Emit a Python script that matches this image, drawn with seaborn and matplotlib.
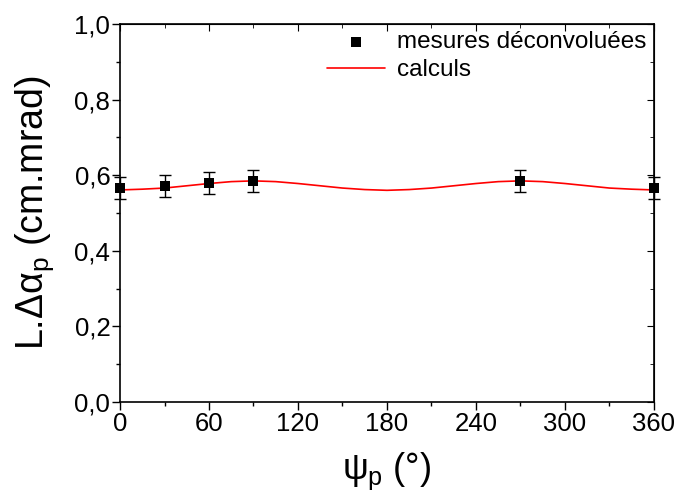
import numpy as np
import pandas as pd
import matplotlib
matplotlib.use("Agg")
import matplotlib.pyplot as plt
from matplotlib.ticker import MultipleLocator, FuncFormatter
import seaborn as sns

# measured points (deconvolved)
psi_meas = [0, 30, 60, 90, 270, 360]
l_meas = [0.566, 0.571, 0.579, 0.585, 0.585, 0.566]
l_err = [0.029, 0.029, 0.029, 0.029, 0.029, 0.029]

# calculated curve
psi_calc = [0, 15, 30, 45, 60, 75, 90, 105, 120, 135, 150, 165, 180,
            195, 210, 225, 240, 255, 270, 285, 300, 315, 330, 345, 360]
l_calc = [0.561, 0.563, 0.566, 0.572, 0.578, 0.583, 0.585, 0.583, 0.578,
          0.572, 0.566, 0.562, 0.560, 0.562, 0.566, 0.572, 0.578, 0.583,
          0.585, 0.583, 0.578, 0.572, 0.566, 0.563, 0.561]

sns.set_style("ticks", {"text.color": "black", "axes.labelcolor": "black",
                        "xtick.color": "black", "ytick.color": "black",
                        "axes.edgecolor": "black"})
plt.rcParams['font.family'] = ['Liberation Sans', 'DejaVu Sans']
plt.rcParams['mathtext.fontset'] = 'custom'
plt.rcParams['mathtext.rm'] = 'Liberation Sans'
plt.rcParams['mathtext.it'] = 'Liberation Sans'

fig = plt.figure(figsize=(6.83, 5), dpi=100)
ax = fig.add_axes([0.1757, 0.196, 0.7818, 0.756])

calc = pd.DataFrame({"psi": psi_calc, "L": l_calc})
meas = pd.DataFrame({"psi": psi_meas, "L": l_meas})

ax.errorbar(psi_meas, l_meas, yerr=l_err, fmt="none", ecolor="black",
            elinewidth=1, capsize=4, capthick=1, zorder=3, clip_on=False)
sns.scatterplot(data=meas, x="psi", y="L", marker="s", s=55, color="black",
                edgecolor="black", linewidth=0, ax=ax, zorder=4,
                label="mesures déconvoluées", clip_on=False)
sns.lineplot(data=calc, x="psi", y="L", color="red", linewidth=1.2, ax=ax,
             label="calculs", zorder=2)

ax.set_xlim(0, 360)
ax.set_ylim(0, 1.0)
ax.xaxis.set_major_locator(MultipleLocator(60))
ax.xaxis.set_minor_locator(MultipleLocator(30))
ax.yaxis.set_major_locator(MultipleLocator(0.2))
ax.yaxis.set_minor_locator(MultipleLocator(0.1))
ax.yaxis.set_major_formatter(FuncFormatter(lambda v, p: f"{v:.1f}".replace(".", ",")))

ax.tick_params(which="both", direction="out", top=False, right=False,
               labelsize=18.5, width=1, color="black", labelcolor="black")
ax.tick_params(which="major", length=6, pad=1)
ax.tick_params(which="minor", length=3)

# mirror ticks pointing inward on top and right
ax_top = ax.secondary_xaxis("top")
ax_top.xaxis.set_major_locator(MultipleLocator(60))
ax_top.xaxis.set_minor_locator(MultipleLocator(30))
ax_top.tick_params(which="both", direction="in", labeltop=False)
ax_top.tick_params(which="major", length=5)
ax_top.tick_params(which="minor", length=3)
ax_right = ax.secondary_yaxis("right")
ax_right.yaxis.set_major_locator(MultipleLocator(0.2))
ax_right.yaxis.set_minor_locator(MultipleLocator(0.1))
ax_right.tick_params(which="both", direction="in", labelright=False)
ax_right.tick_params(which="major", length=5)
ax_right.tick_params(which="minor", length=3)

for sp in ax.spines.values():
    sp.set_linewidth(1.2)
    sp.set_color("black")

ax.set_xlabel(r"$\psi_{\mathrm{p}}$ (°)", fontsize=26, labelpad=11, color="black")
ax.set_ylabel(r"L.$\Delta\alpha_{\mathrm{p}}$ (cm.mrad)", fontsize=27, labelpad=13,
              color="black")

ax.legend(loc="upper right", frameon=False, fontsize=17.5, handlelength=2.4,
          borderaxespad=0.0, handletextpad=0.5, labelspacing=0.25,
          borderpad=0.3)

fig.savefig("out.png", dpi=100)
